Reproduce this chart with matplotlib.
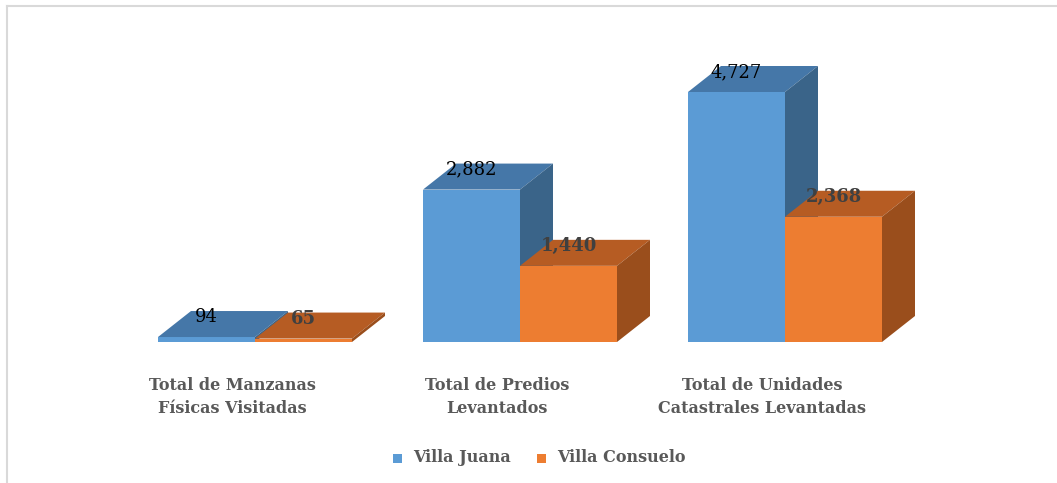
import matplotlib
matplotlib.use("Agg")
import matplotlib.pyplot as plt
from matplotlib.patches import Polygon, Rectangle
from matplotlib.lines import Line2D

categories = ["Total de Manzanas\nFísicas Visitadas",
              "Total de Predios\nLevantados",
              "Total de Unidades\nCatastrales Levantadas"]
series_names = ["Villa Juana", "Villa Consuelo"]
villa_juana = [94, 2882, 4727]
villa_consuelo = [65, 1440, 2368]

# front, top, side shades for each series
shades = [("#5B9BD5", "#4577A8", "#3A6489"),
          ("#ED7D31", "#B65C23", "#9A4E1C")]

W, H = 1057, 483
fig = plt.figure(figsize=(W / 100, H / 100), dpi=100)
ax = fig.add_axes([0, 0, 1, 1])
ax.axis("off")

# pixel layout: group spacing 265 px, first group center at x=255, baseline at y=342
gap_px = 265.0
px_per_unit = 250.0 / 4727
ax.set_xlim(-255 / gap_px, (W - 255) / gap_px)
ax.set_ylim(-(H - 342) / px_per_unit, 342 / px_per_unit)

bar_w = 97 / gap_px
dx = 33 / gap_px
dy = 26 / px_per_unit
label_off = 20 / px_per_unit

for i in range(len(categories)):
    for s, vals in enumerate([villa_juana, villa_consuelo]):
        front, top, side = shades[s]
        x0 = i - bar_w if s == 0 else i
        x1 = x0 + bar_w
        h = vals[i]
        ax.add_patch(Rectangle((x0, 0), bar_w, h, fc=front, ec="none"))
        ax.add_patch(Polygon([(x0, h), (x1, h), (x1 + dx, h + dy), (x0 + dx, h + dy)],
                             closed=True, fc=top, ec="none"))
        ax.add_patch(Polygon([(x1, 0), (x1 + dx, dy), (x1 + dx, h + dy), (x1, h)],
                             closed=True, fc=side, ec="none"))
        if s == 0:
            ax.text(x0 + bar_w / 2, h + label_off, f"{h:,}", ha="center", va="center",
                    family="DejaVu Serif", fontsize=13, color="black")
        else:
            ax.text(x0 + bar_w / 2, h + label_off, f"{h:,}", ha="center", va="center",
                    family="DejaVu Serif", fontweight="bold", fontsize=13, color="#404040")

# category labels
for i, cat in enumerate(categories):
    ax.text(i - 23 / gap_px, -(397 - 342) / px_per_unit, cat, ha="center", va="center",
            family="DejaVu Serif", fontweight="bold", fontsize=11.5, color="#595959",
            linespacing=1.45)

# legend
leg_y = 1 - 458 / H
for name, (front, _, _), sq_x in zip(series_names, shades, [393, 537]):
    fig.patches.append(Rectangle((sq_x / W, leg_y - 4.5 / H), 9 / W, 9 / H,
                                 transform=fig.transFigure, fc=front, ec="none"))
    fig.text((sq_x + 20) / W, leg_y, name, ha="left", va="center",
             family="DejaVu Serif", fontweight="bold", fontsize=11.5, color="#595959")

# chart border (top and left edge visible)
fig.add_artist(Line2D([7 / W, 1], [1 - 6 / H, 1 - 6 / H], transform=fig.transFigure,
                      color="#D9D9D9", lw=1.5))
fig.add_artist(Line2D([7 / W, 7 / W], [0, 1 - 6 / H], transform=fig.transFigure,
                      color="#D9D9D9", lw=1.5))

fig.savefig("out.png", dpi=100)
